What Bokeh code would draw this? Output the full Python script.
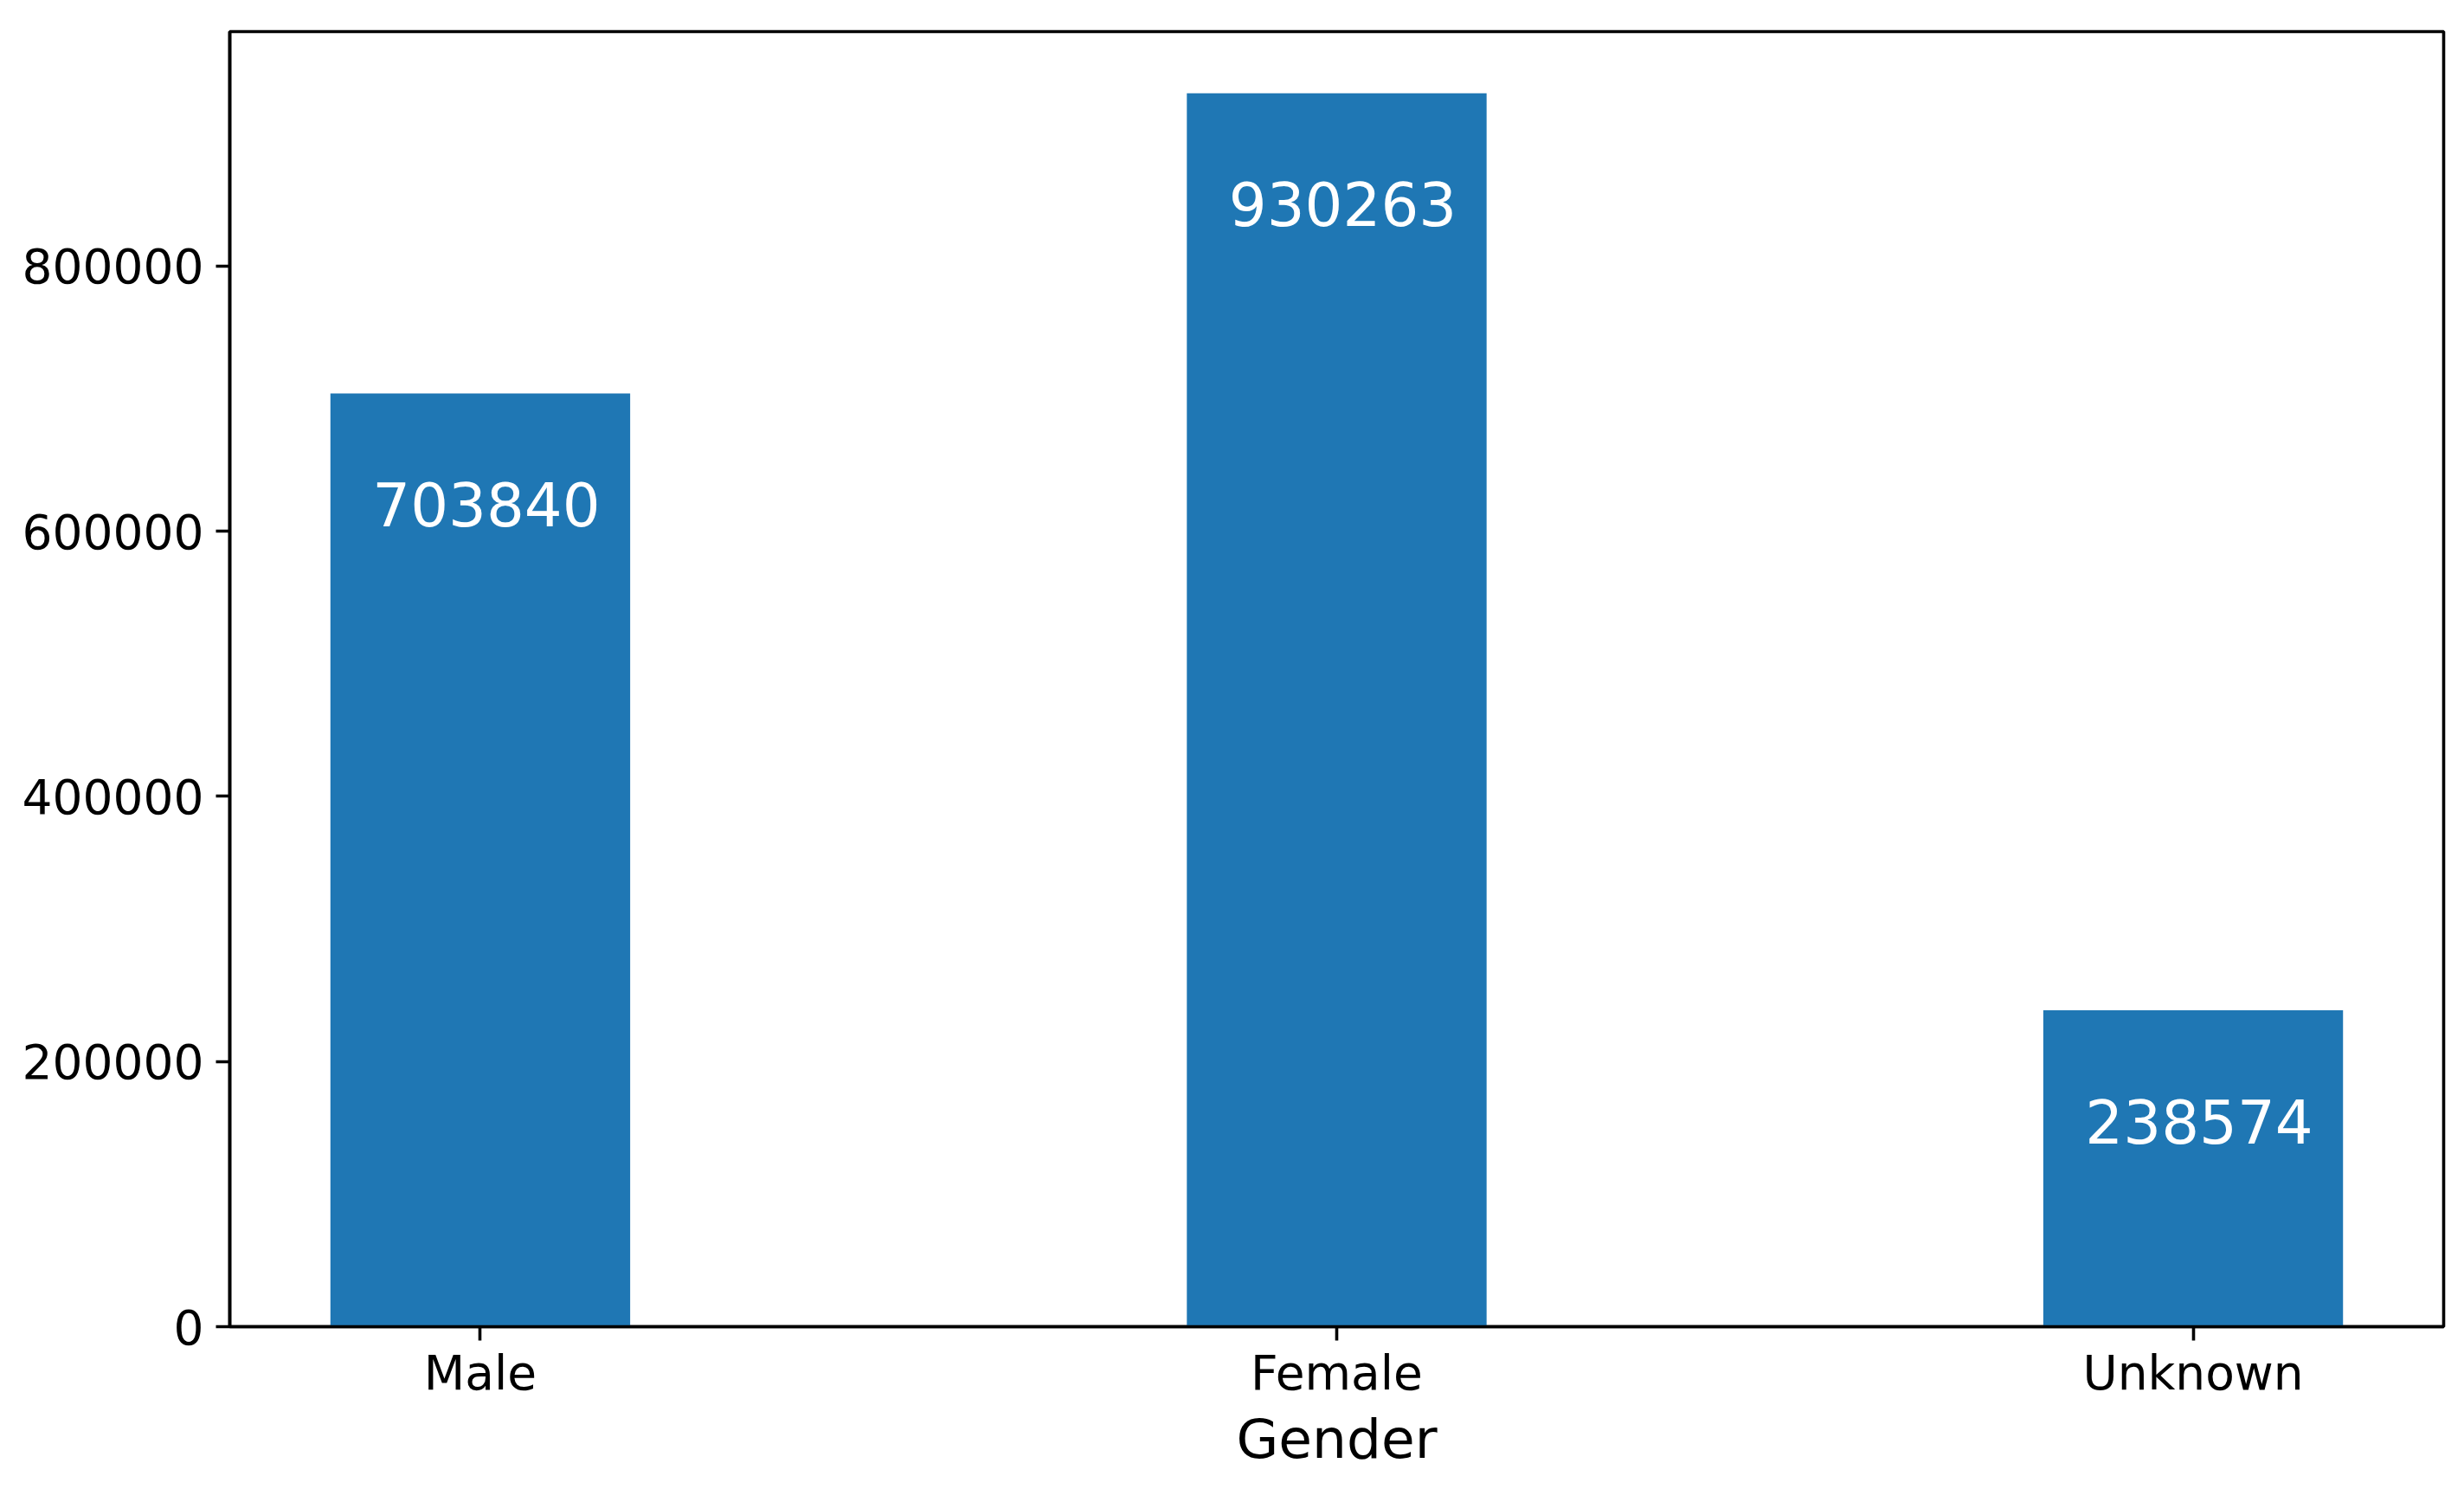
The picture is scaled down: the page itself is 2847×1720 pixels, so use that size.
from bokeh.plotting import figure
from bokeh.models import Range1d, FixedTicker, ColumnDataSource, BasicTickFormatter
from bokeh.core.properties import value
from bokeh.embed import file_html
from bokeh.resources import INLINE

categories = ["Male", "Female", "Unknown"]
counts = [703840, 930263, 238574]
y_ticks = [0, 200000, 400000, 600000, 800000]

xs = list(range(len(categories)))
src = ColumnDataSource(dict(x=xs, top=counts, label=[str(c) for c in counts]))

FONT = "DejaVu Sans"

p = figure(output_backend="svg", toolbar_location=None,
           x_range=Range1d(-0.2925, 2.2925), y_range=Range1d(0, max(counts) * 1.05),
           frame_width=2558, frame_height=1496,
           min_border_left=265, min_border_top=36, min_border_right=16, min_border_bottom=170)
p.grid.visible = False
p.background_fill_color = "white"
p.outline_line_color = "black"
p.outline_line_width = 3.6

p.vbar(x="x", top="top", bottom=0, width=0.35, source=src, fill_color="#1f77b4", line_color=None)
p.text(x="x", y="top", text="label", source=src, text_align="center", text_baseline="middle",
       x_offset=7, y_offset=128, text_color="white", text_font=value(FONT), text_font_size="69px")

for ax in (p.xaxis[0], p.yaxis[0]):
    ax.axis_line_color = "black"
    ax.axis_line_width = 3.6
    ax.major_tick_line_color = "black"
    ax.major_tick_line_width = 3.6
    ax.major_tick_out = 16
    ax.major_tick_in = 0
    ax.minor_tick_line_color = None
    ax.major_label_text_font = FONT
    ax.major_label_text_font_size = "55px"
    ax.major_label_text_color = "black"

p.xaxis.major_label_standoff = 5
p.yaxis.major_label_standoff = 14

p.xaxis.ticker = FixedTicker(ticks=xs)
p.xaxis.major_label_overrides = {i: c for i, c in enumerate(categories)}
p.xaxis.axis_label = "Gender"
p.xaxis.axis_label_text_font = FONT
p.xaxis.axis_label_text_font_size = "63px"
p.xaxis.axis_label_text_font_style = "normal"
p.xaxis.axis_label_text_color = "black"
p.xaxis.axis_label_standoff = 5

p.yaxis.ticker = FixedTicker(ticks=y_ticks)
p.yaxis.formatter = BasicTickFormatter(use_scientific=False)

open("out.html", "w").write(file_html(p, INLINE))
